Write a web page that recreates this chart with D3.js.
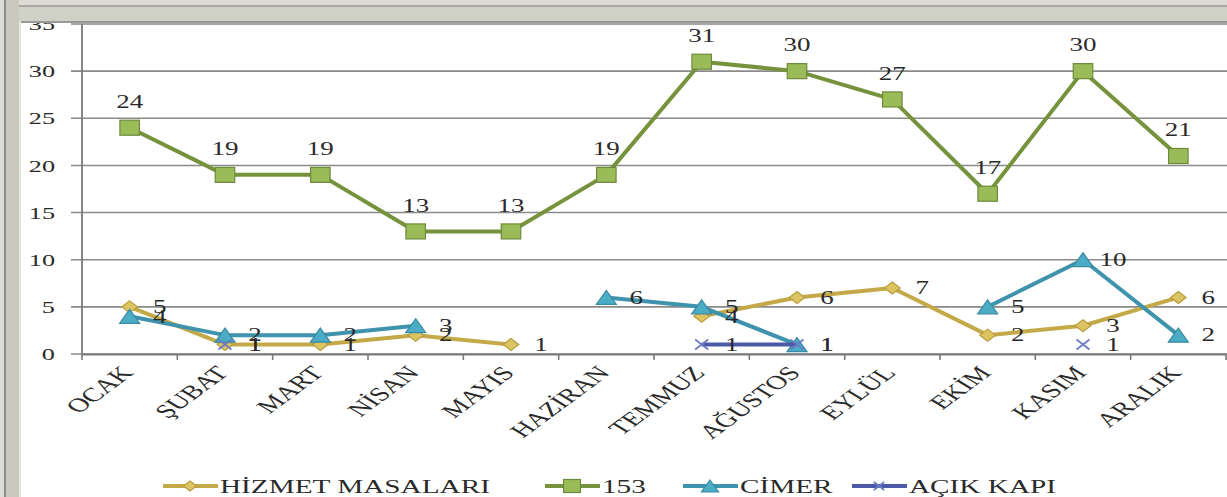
<!DOCTYPE html>
<html><head><meta charset="utf-8">
<script src="https://cdn.jsdelivr.net/npm/d3@7"></script>
<style>
html,body{margin:0;padding:0;background:#fff;overflow:hidden}
text{font-family:"Liberation Serif","DejaVu Serif",serif}
</style></head>
<body>
<svg id="c" width="1227" height="497"></svg>
<script>
const months = ["OCAK","ŞUBAT","MART","NİSAN","MAYIS","HAZİRAN","TEMMUZ","AĞUSTOS","EYLÜL","EKİM","KASIM","ARALIK"];
const hizmet = [5,1,1,2,1,null,4,6,7,2,3,6];
const s153   = [24,19,19,13,13,19,31,30,27,17,30,21];
const cimer  = [4,2,2,3,null,6,5,1,null,5,10,2];
const acik   = [null,1,null,null,null,null,1,1,null,null,1,null];
const yTicks = [0,5,10,15,20,25,30,35];
const seriesNames = ["HİZMET MASALARI","153","CİMER","AÇIK KAPI"];

const SX = 1.5; // horizontal stretch of the reference picture
const svg = d3.select("#c");
const W = 1227, H = 497;
const x = d3.scaleBand().domain(months).range([82, 1226]);
const y = d3.scaleLinear().domain([0,35]).range([354, 24]);

function stext(parent, tx, ty, str, size, anchor, extra){
  const g = parent.append("g").attr("transform",`translate(${tx},${ty}) scale(${SX},1)${extra||""}`);
  g.append("text").attr("text-anchor",anchor).attr("dy","0.35em")
    .style("font-size",size+"px").attr("fill","#2a2a2a").text(str);
  return g;
}

// gridlines + y ticks
svg.append("g").selectAll("line").data(yTicks).join("line")
  .attr("x1", 71).attr("x2", W).attr("y1", d=>y(d)).attr("y2", d=>y(d))
  .attr("stroke", "#8a8a8a").attr("stroke-width", 1.6);
const yl = svg.append("g");
yTicks.forEach(t=> stext(yl, 55, y(t), t, 17.5, "end"));
svg.append("line").attr("x1",82).attr("x2",82).attr("y1",y(35)).attr("y2",y(0))
  .attr("stroke","#7a7a7a").attr("stroke-width",1.8);

// x axis
const xa = svg.append("g").attr("transform","translate(0,354)")
  .call(d3.axisBottom(x).tickSize(0).tickFormat(""));
xa.select(".domain").attr("stroke","#7a7a7a").attr("stroke-width",1.8);
const bounds = months.map(m=>x(m)).concat([x.range()[1]]);
xa.append("g").selectAll("line").data(bounds).join("line")
  .attr("x1",d=>d).attr("x2",d=>d).attr("y1",0).attr("y2",6)
  .attr("stroke","#7a7a7a").attr("stroke-width",1.6);
const xl = svg.append("g");
months.forEach(m=> stext(xl, x(m)+x.bandwidth()/2-3, 369, m, 19.5, "end", " rotate(-48)"));

const cx = i => x(months[i]) + x.bandwidth()/2;
const defs = [
  {vals:hizmet, line:"#c3a948", fill:"#dcc462", stroke:"#b99c3e", shape:"diamond"},
  {vals:s153, line:"#76923c", fill:"#9bbb59", stroke:"#6d8a3a", shape:"square"},
  {vals:cimer, line:"#3f93ac", fill:"#4bacc6", stroke:"#3a8aa3", shape:"triangle"},
  {vals:acik, line:"#4a5aa6", fill:"none", stroke:"#6d7cc4", shape:"x"}
];

function marker(g, shape, s, fill, stroke){
  const h = s/2, w = s/2*1.3;
  if(shape==="square") g.append("rect").attr("x",-w).attr("y",-h).attr("width",2*w).attr("height",2*h).attr("fill",fill).attr("stroke",stroke).attr("stroke-width",1.2);
  else if(shape==="diamond") g.append("path").attr("d",`M0,${-h}L${w},0L0,${h}L${-w},0Z`).attr("fill",fill).attr("stroke",stroke).attr("stroke-width",1.2);
  else if(shape==="triangle") g.append("path").attr("d",`M0,${-h}L${w*1.1},${h}L${-w*1.1},${h}Z`).attr("fill",fill).attr("stroke",stroke).attr("stroke-width",1.2);
  else g.append("path").attr("d",`M${-w},${-h}L${w},${h}M${-w},${h}L${w},${-h}`).attr("stroke",stroke).attr("stroke-width",1.8).attr("fill","none");
}

const sizes = {diamond:12, square:15, triangle:14, x:10};
const lineGen = d3.line().defined(d=>d.v!=null).x(d=>cx(d.i)).y(d=>y(d.v));
defs.forEach((s, si)=>{
  const pts = s.vals.map((v,i)=>({v,i}));
  svg.append("path").datum(pts).attr("d", lineGen).attr("fill","none")
    .attr("stroke", s.line).attr("stroke-width", 4).attr("stroke-linejoin","round");
  pts.filter(p=>p.v!=null).forEach(p=>{
    const g = svg.append("g").attr("transform",`translate(${cx(p.i)},${y(p.v)})`);
    marker(g, s.shape, sizes[s.shape], s.fill, s.stroke);
  });
});
// labels
const lbl = svg.append("g");
defs.forEach((s, si)=>{
  s.vals.forEach((v,i)=>{
    if(v==null) return;
    if(si===1) stext(lbl, cx(i), y(v)-26, v, 18, "middle");
    else stext(lbl, cx(i)+30, y(v), v, 18, "middle");
  });
});

// legend
const legX = [163, 545, 683, 852];
const lg = svg.append("g").attr("transform","translate(0,486)");
defs.forEach((s,si)=>{
  const g = lg.append("g").attr("transform",`translate(${legX[si]},0)`);
  g.append("line").attr("x1",0).attr("x2",55).attr("stroke",s.line).attr("stroke-width",4);
  const m = g.append("g").attr("transform","translate(27,0)");
  marker(m, s.shape, sizes[s.shape]-2, s.fill, s.stroke);
  stext(g, 57, 0, seriesNames[si], 19.5, "start");
});

// frame
const fr = svg.append("g");
fr.append("rect").attr("x",0).attr("y",0).attr("width",W).attr("height",21).attr("fill","#cfd0c6");
fr.append("rect").attr("x",0).attr("y",0).attr("width",W).attr("height",5).attr("fill","#dcdcd4");
fr.append("rect").attr("x",0).attr("y",5).attr("width",W).attr("height",2).attr("fill","#a8a8a0");
fr.append("rect").attr("x",0).attr("y",21).attr("width",W).attr("height",2).attr("fill","#9a9a94");
fr.append("rect").attr("x",0).attr("y",0).attr("width",19).attr("height",H).attr("fill","#c9cabd");
fr.append("rect").attr("x",0).attr("y",0).attr("width",4).attr("height",H).attr("fill","#dcdcd4");
fr.append("rect").attr("x",4).attr("y",0).attr("width",2).attr("height",H).attr("fill","#8e8e88");
fr.append("rect").attr("x",19).attr("y",21).attr("width",2).attr("height",H).attr("fill","#e6e6e0");
</script>
</body></html>
